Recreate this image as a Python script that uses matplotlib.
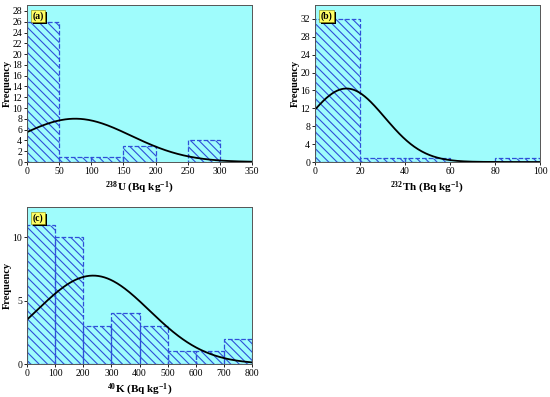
import numpy as np
import matplotlib
matplotlib.use("Agg")
import matplotlib.pyplot as plt
import matplotlib.patheffects as pe

plt.rcParams['font.family'] = ['Liberation Serif', 'DejaVu Serif']
plt.rcParams['mathtext.fontset'] = 'custom'
plt.rcParams['mathtext.rm'] = 'Liberation Serif'
plt.rcParams['mathtext.bf'] = 'Liberation Serif:bold'
plt.rcParams['hatch.linewidth'] = 0.8

# (a) 238U
u_edges = [0, 50, 100, 150, 200, 250, 300, 350]
u_counts = [26, 1, 1, 3, 0, 4, 0]
u_mean, u_sd = 75, 87
# (b) 232Th
th_edges = [0, 20, 40, 60, 80, 100]
th_counts = [32, 1, 1, 0, 1]
th_mean, th_sd = 14, 17
# (c) 40K
k_edges = [0, 100, 200, 300, 400, 500, 600, 700, 800]
k_counts = [11, 10, 3, 4, 3, 1, 1, 2]
k_mean, k_sd = 235, 200

BG = '#9ffcfc'
BLUE = '#2f50d8'


def panel(ax, edges, counts, mean, sd, ylim, yticks, xlabel, tag):
    ax.set_facecolor(BG)
    edges = np.array(edges)
    widths = np.diff(edges)
    for left, w, c in zip(edges[:-1], widths, counts):
        if c == 0:
            continue
        ax.bar(left, c, width=w, align='edge', facecolor='none',
               edgecolor=BLUE, hatch='\\' * 4, linewidth=0.9, linestyle='--')
    n = sum(counts)
    x = np.linspace(edges[0], edges[-1], 300)
    y = n * widths[0] * np.exp(-(x - mean) ** 2 / (2 * sd ** 2)) / (sd * np.sqrt(2 * np.pi))
    ax.plot(x, y, color='black', lw=1.3)
    ax.set_xlim(edges[0], edges[-1])
    ax.set_ylim(*ylim)
    ax.set_xticks(edges)
    ax.set_yticks(yticks)
    ax.tick_params(labelsize=7, length=2.5, width=0.6, pad=1)
    for s in ax.spines.values():
        s.set_linewidth(0.7)
        s.set_color('#555555')
    ax.set_xlabel(xlabel, fontsize=8, fontweight='bold', labelpad=3)
    ax.set_ylabel('Frequency', fontsize=7.5, fontweight='bold', labelpad=0.5)
    t = ax.text(0.025, 0.96, tag, transform=ax.transAxes, fontsize=7, fontweight='bold',
                va='top', color='black',
                bbox=dict(boxstyle='square,pad=0.15', fc='#ffff66', ec='#888800', lw=0.4))
    t.get_bbox_patch().set_path_effects([
        pe.SimplePatchShadow(offset=(1.5, -1.5), shadow_rgbFace='black', alpha=1),
        pe.Normal()])


fig = plt.figure(figsize=(5.5, 3.97), dpi=100)
ax_a = fig.add_axes([27 / 550, 1 - 162 / 397, 225 / 550, 157 / 397])
ax_b = fig.add_axes([315 / 550, 1 - 162 / 397, 225 / 550, 157 / 397])
ax_c = fig.add_axes([27 / 550, 1 - 364 / 397, 225 / 550, 157 / 397])

panel(ax_a, u_edges, u_counts, u_mean, u_sd, (0, 29.1), range(0, 29, 2),
      r'$\mathbf{^{238}U}$ (Bq kg$\mathbf{^{-1}}$)', '(a)')
panel(ax_b, th_edges, th_counts, th_mean, th_sd, (0, 35.1), range(0, 33, 4),
      r'$\mathbf{^{232}Th}$ (Bq kg$\mathbf{^{-1}}$)', '(b)')
panel(ax_c, k_edges, k_counts, k_mean, k_sd, (0, 12.4), [0, 5, 10],
      r'$\mathbf{^{40}K}$ (Bq kg$\mathbf{^{-1}}$)', '(c)')

fig.savefig('out.png', dpi=100)
